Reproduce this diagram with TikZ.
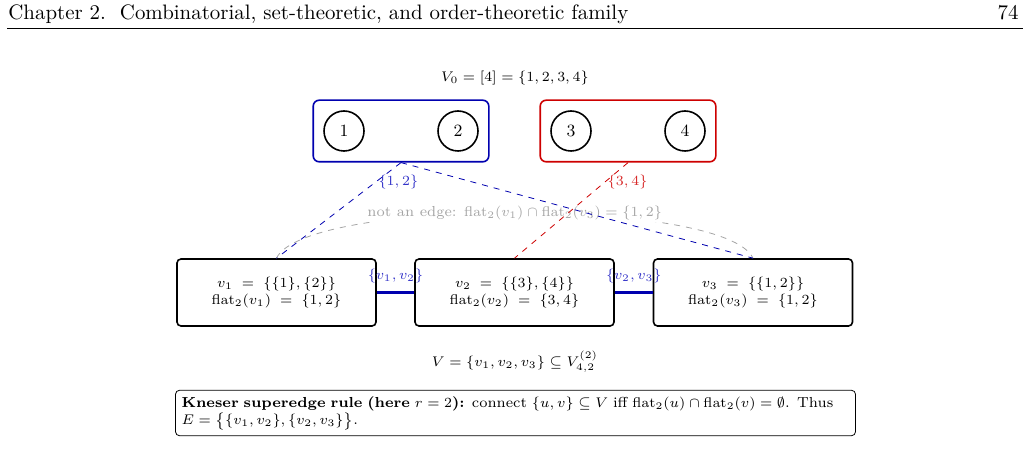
\documentclass[tikz,border=0pt]{standalone}
\usepackage{amsmath}
\usepackage{amssymb}
\usepackage{xcolor}
\usepackage{tikz}
\usetikzlibrary{positioning, fit}
\definecolor{edgeblue}{RGB}{0, 0, 175}
\definecolor{lblblue}{RGB}{50, 50, 200}
\definecolor{edgered}{RGB}{205, 0, 0}
\definecolor{lblred}{RGB}{215, 40, 40}
\definecolor{notgray}{RGB}{165, 165, 165}
\DeclareMathOperator{\flatop}{flat}
\newcommand{\dgsize}{\fontsize{7.25}{8.7}\selectfont}

\begin{document}
\begin{tikzpicture}[x=0.5pt, y=-0.5pt,
    elem/.style={draw, thick, circle, minimum size=20pt, inner sep=0pt, font=\fontsize{8.6}{10}\selectfont},
    part/.style={draw, thick, rounded corners=3pt, inner sep=5pt},
    vbox/.style={draw, thick, rounded corners=2pt, minimum width=99.5pt,
        minimum height=33.5pt, align=center, font=\dgsize},
    superedge/.style={edgeblue, line width=1.2pt},
    flatlink/.style={dashed, thin}]
\useasboundingbox (0,0) rectangle (1031,459);

% running head of the page
\node[anchor=base west, inner sep=0pt, font=\fontsize{10.45}{12.5}\selectfont] (head) at (8,20) {Chapter 2.\ \ Combinatorial, set-theoretic, and order-theoretic family};
\node[anchor=base east, inner sep=0pt, font=\fontsize{10.45}{12.5}\selectfont] (pagenum) at (1019,20) {74};
\draw[line width=0.4pt] (7,28) -- (1023,28);

% ground set and its two blocks
\node[font=\dgsize] (groundlbl) at (515,78) {$V_0=[4]=\{1,2,3,4\}$};
\node[elem] (e1) at (344,131) {1};
\node[elem] (e2) at (458,131) {2};
\node[elem] (e3) at (571,131) {3};
\node[elem] (e4) at (685,131) {4};
\node[part, edgeblue, fit=(e1)(e2)] (blockA) {};
\node[part, edgered, fit=(e3)(e4)] (blockB) {};

% vertices
\node[vbox] (v1) at (276.5,292.5) {$v_1\;=\;\{\{1\},\{2\}\}$\\$\flatop_2(v_1)\;=\;\{1,2\}$};
\node[vbox] (v2) at (514.5,292.5) {$v_2\;=\;\{\{3\},\{4\}\}$\\$\flatop_2(v_2)\;=\;\{3,4\}$};
\node[vbox] (v3) at (753,292.5) {$v_3\;=\;\{\{1,2\}\}$\\$\flatop_2(v_3)\;=\;\{1,2\}$};

% the missing edge
\draw[dashed, notgray, thin] (v1.north) to[out=65, in=115, looseness=0.36]
    node[fill=white, inner sep=1pt, font=\dgsize] (nonedge) {not an edge: $\flatop_2(v_1)\cap\flatop_2(v_3)=\{1,2\}$} (v3.north);

% flattening links
\draw[flatlink, edgeblue] (blockA.south) -- node[pos=0.2, anchor=west, text=lblblue, font=\dgsize, inner sep=1pt] (lblA) {$\{1,2\}$} (v1.north);
\draw[flatlink, edgeblue] (blockA.south) -- (v3.north);
\draw[flatlink, edgered] (blockB.south) -- node[pos=0.2, anchor=west, text=lblred, font=\dgsize, inner sep=1pt] (lblB) {$\{3,4\}$} (v2.north);

% superedges
\draw[superedge] (v1) -- node[above=3pt, text=lblblue, font=\dgsize, inner sep=1pt] (e12) {$\{v_1,v_2\}$} (v2);
\draw[superedge] (v2) -- node[above=3pt, text=lblblue, font=\dgsize, inner sep=1pt] (e23) {$\{v_2,v_3\}$} (v3);

% vertex set and rule
\node[font=\dgsize] (vset) at (515,362) {$V=\{v_1,v_2,v_3\}\subseteq V_{4,2}^{(2)}$};
\node[draw, rounded corners=2pt, inner sep=3pt, text width=334pt, align=left, font=\dgsize] (rule) at (515.5,413)
    {\textbf{Kneser superedge rule (here $r=2$):} connect $\{u,v\}\subseteq V$ iff $\flatop_2(u)\cap\flatop_2(v)=\emptyset$. Thus\\$E=\bigl\{\{v_1,v_2\},\{v_2,v_3\}\bigr\}$.};
\end{tikzpicture}
\end{document}
